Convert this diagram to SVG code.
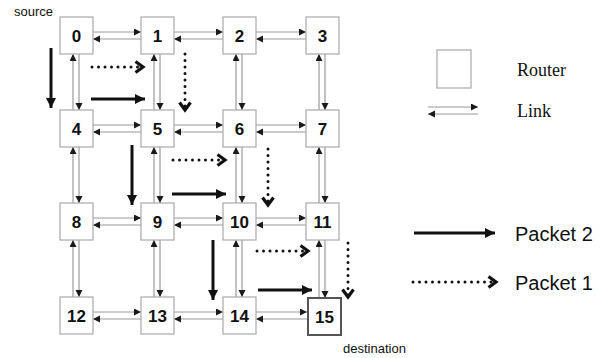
<svg xmlns="http://www.w3.org/2000/svg" width="603" height="358" viewBox="0 0 603 358">
<defs>
<style>
.box{fill:#fff;stroke:#a8a8a8;stroke-width:1.2}
.dst{fill:#fff;stroke:#555;stroke-width:2}
.lbl{font-family:"Liberation Sans",Arial,sans-serif;font-weight:bold;font-size:17px;text-anchor:middle;fill:#111}
.link{stroke:#9a9a9a;stroke-width:1.2;fill:none;marker-end:url(#lh)}
.p2{stroke:#111;stroke-width:3;fill:none;marker-end:url(#ph2)}
.p1{stroke:#111;stroke-width:3;fill:none;stroke-dasharray:0 6.5;stroke-linecap:round;marker-end:url(#ph1)}
.note{font-family:"Liberation Sans",Arial,sans-serif;font-size:13px;fill:#111}
.serif{font-family:"Liberation Serif","Times New Roman",serif;font-size:18px;fill:#111}
.sans{font-family:"Liberation Sans",Arial,sans-serif;font-size:20px;fill:#111}
</style>
<marker id="lh" markerUnits="userSpaceOnUse" markerWidth="8" markerHeight="8" refX="7" refY="3.5" orient="auto"><path d="M0,0 L7,3.5 L0,7 z" fill="#1a1a1a"/></marker>
<marker id="ph2" markerUnits="userSpaceOnUse" markerWidth="12" markerHeight="12" refX="10" refY="5" orient="auto"><path d="M0,0 L10,5 L0,10 z" fill="#111"/></marker>
<marker id="ph1" markerUnits="userSpaceOnUse" markerWidth="14" markerHeight="16" refX="9" refY="7" orient="auto"><path d="M1.5,1.5 L9,7 L1.5,12.5" fill="none" stroke="#111" stroke-width="3.2"/></marker>
</defs>
<rect width="603" height="358" fill="#fff"/>

<g id="connectors">
<line class="link" x1="93" y1="32" x2="141" y2="32"/><line class="link" x1="141" y1="39" x2="93" y2="39"/>
<line class="link" x1="174" y1="32" x2="223" y2="32"/><line class="link" x1="223" y1="39" x2="174" y2="39"/>
<line class="link" x1="256" y1="32" x2="306" y2="32"/><line class="link" x1="306" y1="39" x2="256" y2="39"/>
<line class="link" x1="93" y1="125" x2="141" y2="125"/><line class="link" x1="141" y1="132" x2="93" y2="132"/>
<line class="link" x1="174" y1="125" x2="223" y2="125"/><line class="link" x1="223" y1="132" x2="174" y2="132"/>
<line class="link" x1="256" y1="125" x2="306" y2="125"/><line class="link" x1="306" y1="132" x2="256" y2="132"/>
<line class="link" x1="93" y1="218" x2="141" y2="218"/><line class="link" x1="141" y1="225" x2="93" y2="225"/>
<line class="link" x1="174" y1="218" x2="223" y2="218"/><line class="link" x1="223" y1="225" x2="174" y2="225"/>
<line class="link" x1="256" y1="218" x2="306" y2="218"/><line class="link" x1="306" y1="225" x2="256" y2="225"/>
<line class="link" x1="93" y1="312" x2="141" y2="312"/><line class="link" x1="141" y1="319" x2="93" y2="319"/>
<line class="link" x1="174" y1="312" x2="223" y2="312"/><line class="link" x1="223" y1="319" x2="174" y2="319"/>
<line class="link" x1="256" y1="312" x2="307" y2="312"/><line class="link" x1="307" y1="319" x2="256" y2="319"/>
<line class="link" x1="73" y1="110" x2="73" y2="54"/><line class="link" x1="79" y1="54" x2="79" y2="110"/>
<line class="link" x1="154" y1="110" x2="154" y2="54"/><line class="link" x1="160" y1="54" x2="160" y2="110"/>
<line class="link" x1="236" y1="110" x2="236" y2="54"/><line class="link" x1="242" y1="54" x2="242" y2="110"/>
<line class="link" x1="319" y1="110" x2="319" y2="54"/><line class="link" x1="325" y1="54" x2="325" y2="110"/>
<line class="link" x1="73" y1="203" x2="73" y2="147"/><line class="link" x1="79" y1="147" x2="79" y2="203"/>
<line class="link" x1="154" y1="203" x2="154" y2="147"/><line class="link" x1="160" y1="147" x2="160" y2="203"/>
<line class="link" x1="236" y1="203" x2="236" y2="147"/><line class="link" x1="242" y1="147" x2="242" y2="203"/>
<line class="link" x1="319" y1="203" x2="319" y2="147"/><line class="link" x1="325" y1="147" x2="325" y2="203"/>
<line class="link" x1="73" y1="297" x2="73" y2="240"/><line class="link" x1="79" y1="240" x2="79" y2="297"/>
<line class="link" x1="154" y1="297" x2="154" y2="240"/><line class="link" x1="160" y1="240" x2="160" y2="297"/>
<line class="link" x1="236" y1="297" x2="236" y2="240"/><line class="link" x1="242" y1="240" x2="242" y2="297"/>
<line class="link" x1="319" y1="298" x2="319" y2="240"/><line class="link" x1="325" y1="240" x2="325" y2="298"/>
<line class="p2" x1="51" y1="48" x2="51" y2="108"/>
<line class="p2" x1="91" y1="99" x2="145" y2="99"/>
<line class="p2" x1="132" y1="145" x2="132" y2="205"/>
<line class="p2" x1="172" y1="194" x2="226" y2="194"/>
<line class="p2" x1="213" y1="240" x2="213" y2="300"/>
<line class="p2" x1="258" y1="290" x2="312" y2="290"/>
<line class="p1" x1="92" y1="67" x2="143" y2="67"/>
<line class="p1" x1="185" y1="54" x2="185" y2="110"/>
<line class="p1" x1="173" y1="160" x2="225" y2="160"/>
<line class="p1" x1="268" y1="149" x2="268" y2="205"/>
<line class="p1" x1="257" y1="251" x2="308" y2="251"/>
<line class="p1" x1="348" y1="243" x2="348" y2="297"/>
</g>

<g id="n0"><rect class="box" x="60" y="17" width="33" height="37"/><text class="lbl" x="76.5" y="42">0</text></g>
<g id="n1"><rect class="box" x="141" y="17" width="33" height="37"/><text class="lbl" x="157.5" y="42">1</text></g>
<g id="n2"><rect class="box" x="223" y="17" width="33" height="37"/><text class="lbl" x="239.5" y="42">2</text></g>
<g id="n3"><rect class="box" x="306" y="17" width="33" height="37"/><text class="lbl" x="322.5" y="42">3</text></g>
<g id="n4"><rect class="box" x="60" y="110" width="33" height="37"/><text class="lbl" x="76.5" y="135">4</text></g>
<g id="n5"><rect class="box" x="141" y="110" width="33" height="37"/><text class="lbl" x="157.5" y="135">5</text></g>
<g id="n6"><rect class="box" x="223" y="110" width="33" height="37"/><text class="lbl" x="239.5" y="135">6</text></g>
<g id="n7"><rect class="box" x="306" y="110" width="33" height="37"/><text class="lbl" x="322.5" y="135">7</text></g>
<g id="n8"><rect class="box" x="60" y="203" width="33" height="37"/><text class="lbl" x="76.5" y="228">8</text></g>
<g id="n9"><rect class="box" x="141" y="203" width="33" height="37"/><text class="lbl" x="157.5" y="228">9</text></g>
<g id="n10"><rect class="box" x="223" y="203" width="33" height="37"/><text class="lbl" x="239.5" y="228">10</text></g>
<g id="n11"><rect class="box" x="306" y="203" width="33" height="37"/><text class="lbl" x="322.5" y="228">11</text></g>
<g id="n12"><rect class="box" x="60" y="297" width="33" height="37"/><text class="lbl" x="76.5" y="322">12</text></g>
<g id="n13"><rect class="box" x="141" y="297" width="33" height="37"/><text class="lbl" x="157.5" y="322">13</text></g>
<g id="n14"><rect class="box" x="223" y="297" width="33" height="37"/><text class="lbl" x="239.5" y="322">14</text></g>
<g id="n15"><rect class="dst" x="308" y="298" width="33" height="37"/><text class="lbl" x="324.5" y="323">15</text></g>

<text class="note" x="14" y="16">source</text>
<text class="note" x="343" y="353">destination</text>

<g id="legend">
<rect class="box" x="437" y="50" width="34" height="38"/>
<text class="serif" x="517" y="76">Router</text>
<line class="link" x1="428" y1="107" x2="478" y2="107"/>
<line class="link" x1="478" y1="114" x2="428" y2="114"/>
<text class="serif" x="517" y="117">Link</text>
<line class="p2" x1="414" y1="233" x2="495" y2="233"/>
<text class="sans" x="515" y="241">Packet 2</text>
<line class="p1" x1="413" y1="282" x2="496" y2="282"/>
<text class="sans" x="515" y="290">Packet 1</text>
</g>
</svg>
